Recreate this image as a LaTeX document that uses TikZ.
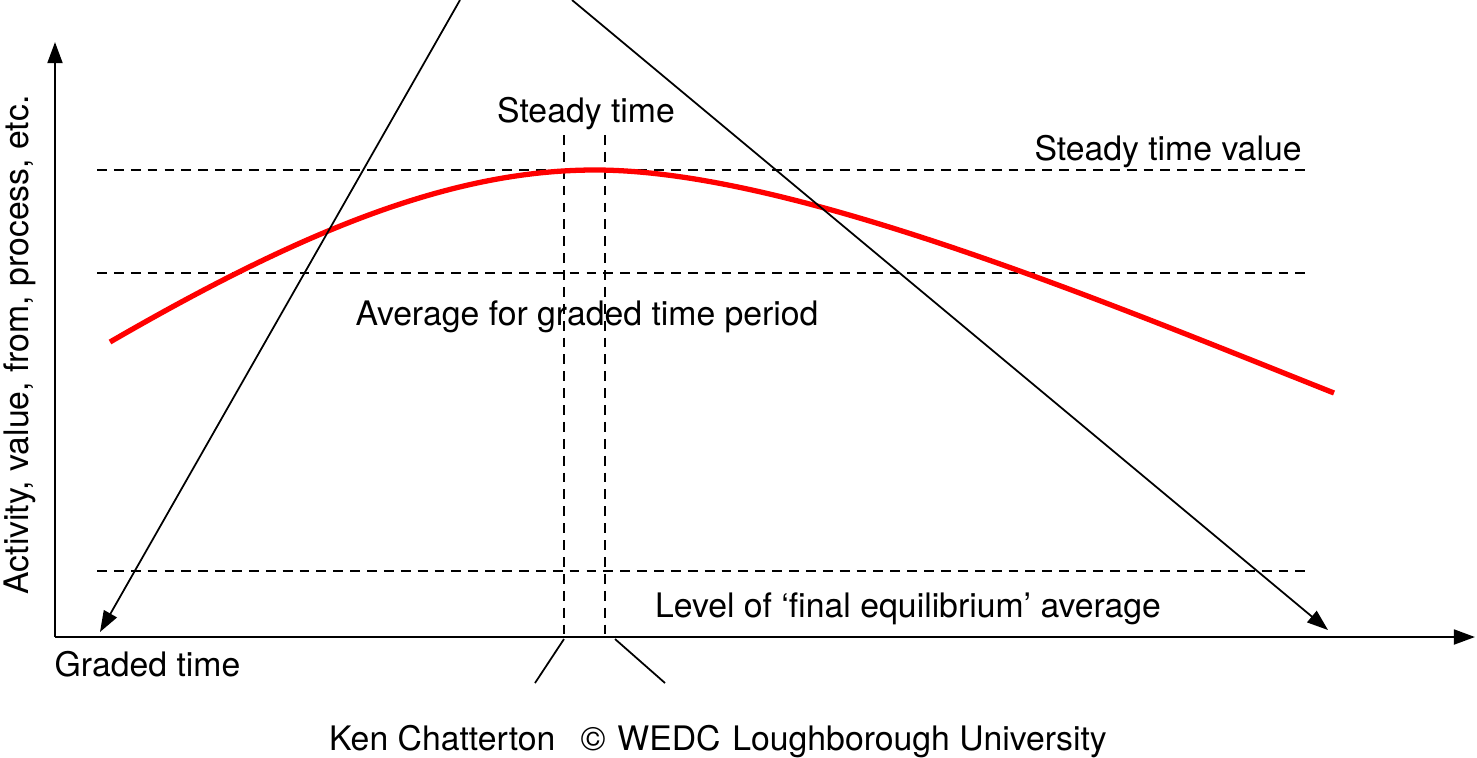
\documentclass[tikz,border=0pt]{standalone}
\usepackage{fontspec}
\setmainfont{TeX Gyre Heros}
\usepackage{tikz}
\usetikzlibrary{arrows.meta, positioning, calc}

\begin{document}
\begin{tikzpicture}[
    x=0.01cm, y=-0.01cm,
    lbl/.style={font=\fontsize{9.6}{11.5}\selectfont, inner sep=0pt, anchor=base},
    axis/.style={line width=0.75pt, -{Triangle[length=6pt,width=4.2pt]}},
    guide/.style={line width=0.45pt, dash pattern=on 2.8pt off 2pt},
    ray/.style={line width=0.5pt, -{Triangle[length=6pt,width=4.2pt]}},
    curve/.style={line width=1.5pt, red}
]
\useasboundingbox (0,0) rectangle (1477,757);

% axes
\coordinate (origin) at (55,637);
\coordinate (ytop) at (55,42);
\coordinate (xend) at (1475,637);
\draw[axis] (origin) -- (ytop);
\draw[axis] (origin) -- (xend);

% labels
\node[lbl, rotate=90, anchor=center] (ylab) at (20,345) {Activity, value, from, process, etc.};
\node[lbl, anchor=base west] (graded) at (54,676) {Graded time};
\node[lbl] (steady) at (586,122) {Steady time};
\node[lbl] (steadyval) at (1168,160) {Steady time value};
\node[lbl] (average) at (587,325) {Average for graded time period};
\node[lbl] (final) at (908,617) {Level of `final equilibrium' average};
\node[lbl] (credit) at (718,750) {Ken Chatterton\hspace{0.75em}\textcopyright\hspace{0.35em}WEDC\hspace{0.35em}Loughborough University};

% dashed levels
\draw[guide] (97,170) -- (1305,170);
\draw[guide] (97,273) -- (1305,273);
\draw[guide] (97,571) -- (1305,571);
\draw[guide] (564,135) -- (564,637);
\draw[guide] (605,135) -- (605,637);

% red curve
\draw[curve] (110,342) .. controls (300,232) and (450,170) .. (595,170)
    .. controls (790,170) and (1100,300) .. (1334,393);

% rays
\coordinate (lstart) at (460,0);
\coordinate (lend) at (100,632);
\coordinate (rstart) at (572,0);
\coordinate (rend) at (1328,630);
\draw[ray] (lstart) -- (lend);
\draw[ray] (rstart) -- (rend);

% ticks under the axis
\draw[line width=0.5pt] (564,639) -- (535,683);
\draw[line width=0.5pt] (615,639) -- (665,683);
\end{tikzpicture}
\end{document}
